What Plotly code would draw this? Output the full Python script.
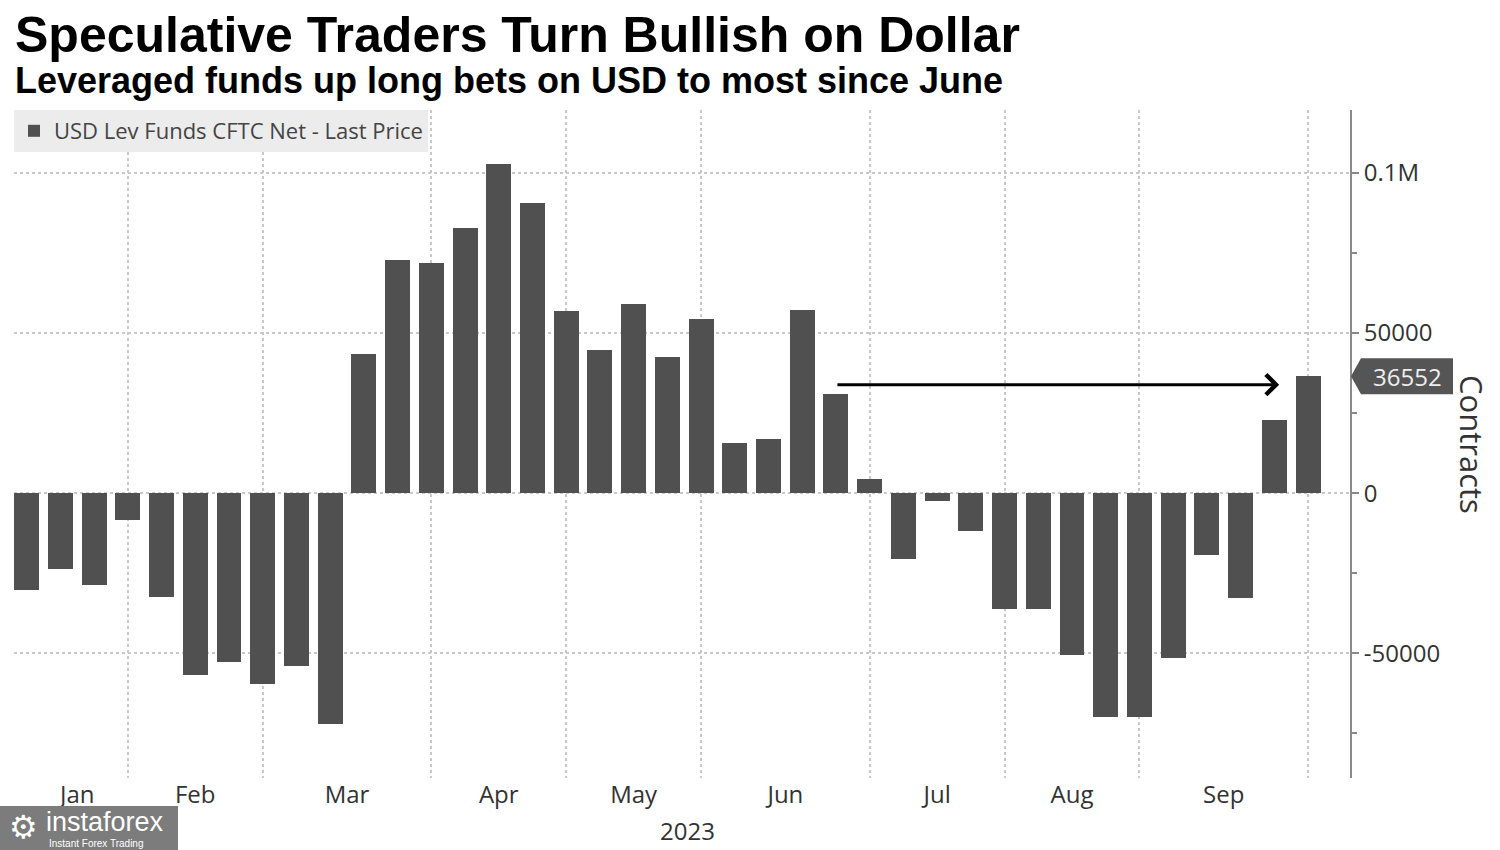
import pandas as pd
import plotly.graph_objects as go

# ---- data ----
dates = pd.date_range("2023-01-06", periods=39, freq="7D")
values = [-30400, -23700, -28600, -8300, -32500, -56700, -52800, -59500, -53900, -72100,
          43600, 72700, 72000, 82900, 102900, 90600, 56800, 44600, 59000, 42500,
          54500, 15800, 17000, 57300, 31100, 4500, -20500, -2600, -11700, -36300,
          -36300, -50700, -69800, -69800, -51400, -19200, -32800, 22900, 36552]
series_name = "USD Lev Funds CFTC Net - Last Price"
y_tickvals = [-50000, 0, 50000, 100000]
y_ticktext = ["-50000", "0", "50000", "0.1M"]
month_names = ["Jan", "Feb", "Mar", "Apr", "May", "Jun", "Jul", "Aug", "Sep"]
arrow_from_date, arrow_to_date, arrow_level = "2023-06-23", "2023-09-23", 33900

# ---- layout constants ----
W, H = 1500, 850
ML, MR, MT, MB = 14, 150, 110, 72
PW, PH = W - ML - MR, H - MT - MB
YMIN, YMAX = -89000, 119700
XMIN, XMAX = pd.Timestamp("2023-01-03 09:00"), pd.Timestamp("2023-10-07 17:00")
BAR = "#505050"
TXT = "#333333"
GRID = "#c9c9c9"
FONT = "Open Sans"


def px_x(p):  # screen x pixel -> paper x
    return (p - ML) / PW


def px_y(p):  # screen y pixel -> paper y
    return (H - MB - p) / PH


# gridlines at the last bar of each month, labels centred between them
s = pd.Series(dates, index=dates)
grid_dates = list(s.groupby([dates.year, dates.month]).max())
edges = [dates[0]] + grid_dates
label_dates = [edges[i] + (edges[i + 1] - edges[i]) / 2 for i in range(len(grid_dates))]

fig = go.Figure()
fig.add_trace(go.Bar(
    x=dates, y=values, name=series_name,
    marker=dict(color=BAR, line=dict(width=0)),
    width=0.74 * 7 * 86400000,
    showlegend=True,
))

fig.update_layout(
    width=W, height=H,
    margin=dict(l=ML, r=MR, t=MT, b=MB, autoexpand=False),
    paper_bgcolor="white", plot_bgcolor="white",
    font=dict(family=FONT, color=TXT),
    bargap=0,
    showlegend=True,
    legend=dict(x=0, y=1, xanchor="left", yanchor="top", bgcolor="#ececec",
                font=dict(size=22, color="#444444", family=FONT),
                itemwidth=30, borderwidth=0),
    xaxis=dict(
        type="date", range=[XMIN, XMAX],
        tickmode="array", tickvals=label_dates, ticktext=month_names,
        ticks="", showgrid=False, showline=False, zeroline=False,
        tickfont=dict(size=24, color=TXT, family=FONT),
        minor=dict(tickmode="array", tickvals=grid_dates, showgrid=True,
                   gridcolor=GRID, griddash="dot", gridwidth=1.5, ticks=""),
    ),
    yaxis=dict(
        side="right", range=[YMIN, YMAX],
        tickmode="array", tickvals=y_tickvals, ticktext=y_ticktext,
        ticks="outside", ticklen=7, tickwidth=2, tickcolor="#8a8a8a",
        showline=True, linecolor="#8a8a8a", linewidth=2,
        showgrid=True, gridcolor=GRID, griddash="dot", gridwidth=1.5,
        zeroline=False,
        tickfont=dict(size=24, color=TXT, family=FONT),
        minor=dict(tick0=0, dtick=25000, ticks="outside", ticklen=5, tickwidth=2,
                   tickcolor="#8a8a8a", showgrid=False),
    ),
)

# title & subtitle
fig.add_annotation(text="<b>Speculative Traders Turn Bullish on Dollar</b>",
                   xref="paper", yref="paper", x=px_x(13), y=px_y(35),
                   xanchor="left", yanchor="middle", showarrow=False,
                   font=dict(size=50, color="#000000", family="Liberation Sans"))
fig.add_annotation(text="<b>Leveraged funds up long bets on USD to most since June</b>",
                   xref="paper", yref="paper", x=px_x(13), y=px_y(80),
                   xanchor="left", yanchor="middle", showarrow=False,
                   font=dict(size=36, color="#000000", family="Liberation Sans"))

# arrow
fig.add_annotation(x=arrow_to_date, y=arrow_level, ax=arrow_from_date, ay=arrow_level,
                   xref="x", yref="y", axref="x", ayref="y", text="",
                   showarrow=True, arrowhead=4, arrowsize=1.3, arrowwidth=3,
                   arrowcolor="#000000")

# last-value tag
u_per_px = (YMAX - YMIN) / PH
last = values[-1]
hh = 18 * u_per_px
x0, x1, x2 = 1 + 1 / PW, 1 + 11 / PW, 1 + 103 / PW
fig.add_shape(type="path", xref="paper", yref="y",
              path=f"M {x0} {last} L {x1} {last + hh} L {x2} {last + hh} "
                   f"L {x2} {last - hh} L {x1} {last - hh} Z",
              fillcolor="#555555", line=dict(width=0))
fig.add_annotation(text=f"{last}", xref="paper", yref="y",
                   x=1 + 57 / PW, y=last, xanchor="center", yanchor="middle",
                   showarrow=False, font=dict(size=24, color="#eeeeee", family=FONT))

# y-axis title
fig.add_annotation(text="Contracts", xref="paper", yref="paper",
                   x=px_x(1472), y=px_y(444), textangle=90,
                   xanchor="center", yanchor="middle", showarrow=False,
                   font=dict(size=31, color=TXT, family=FONT))

# year label
fig.add_annotation(text="2023", xref="paper", yref="paper",
                   x=px_x(688), y=px_y(830),
                   xanchor="center", yanchor="middle", showarrow=False,
                   font=dict(size=24, color=TXT, family=FONT))

# watermark
fig.add_shape(type="rect", xref="paper", yref="paper",
              x0=px_x(0), x1=px_x(178), y0=px_y(850), y1=px_y(806),
              fillcolor="#7c7c7c", line=dict(width=0), layer="above")
fig.add_annotation(text="⚙", xref="paper", yref="paper", x=px_x(23), y=px_y(827),
                   xanchor="center", yanchor="middle", showarrow=False,
                   font=dict(size=32, color="#ffffff", family="DejaVu Sans"))
fig.add_annotation(text="instaforex", xref="paper", yref="paper", x=px_x(44), y=px_y(822),
                   xanchor="left", yanchor="middle", showarrow=False,
                   font=dict(size=27, color="#ffffff", family="Liberation Sans"))
fig.add_annotation(text="Instant Forex Trading", xref="paper", yref="paper",
                   x=px_x(47), y=px_y(843), xanchor="left", yanchor="middle",
                   showarrow=False,
                   font=dict(size=10, color="#ffffff", family="Liberation Sans"))

fig.write_html("out.html", config={"displayModeBar": False},
               post_script="document.body.style.margin='0';")
